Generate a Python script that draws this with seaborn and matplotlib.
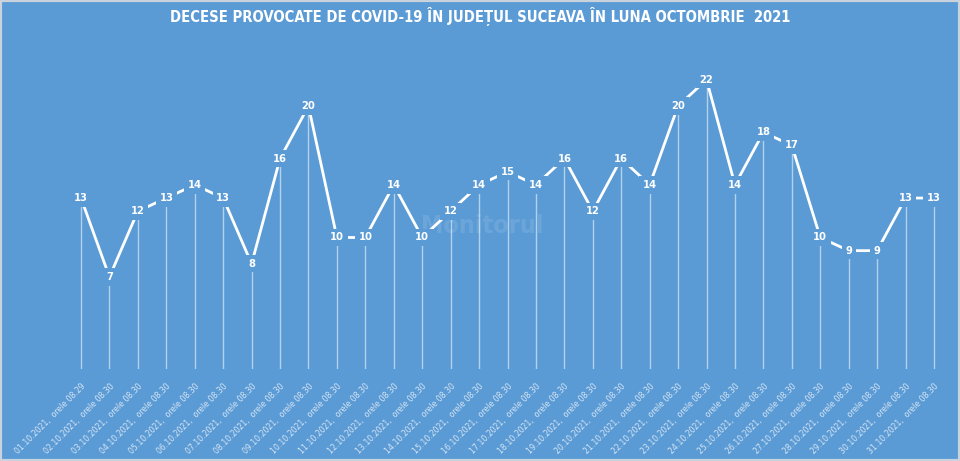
import numpy as np
import pandas as pd
import matplotlib
matplotlib.use("Agg")
import matplotlib.pyplot as plt
import seaborn as sns
from matplotlib.patches import Rectangle

# Data
zile = [f"{d:02d}.10.2021" for d in range(1, 32)]
ore = ["08.29"] + ["08.30"] * 30
decese = [13, 7, 12, 13, 14, 13, 8, 16, 20, 10, 10, 14, 10, 12, 14, 15,
          14, 16, 12, 16, 14, 20, 22, 14, 18, 17, 10, 9, 9, 13, 13]
etichete = [f"{z},  orele {o}" for z, o in zip(zile, ore)]

titlu = "DECESE PROVOCATE DE COVID-19 ÎN JUDEȚUL SUCEAVA ÎN LUNA OCTOMBRIE  2021"

bg = "#5b9bd5"

sns.set_style("white")
plt.rcParams['font.family'] = ['DejaVu Sans']

df = pd.DataFrame({"idx": np.arange(len(decese)), "decese": decese})

fig = plt.figure(figsize=(9.6, 4.61), dpi=100)
fig.patch.set_facecolor(bg)
ax = fig.add_axes([0, 92 / 461, 1, 369 / 461])
ax.set_facecolor(bg)

# drop lines
ax.vlines(df["idx"], 0, df["decese"], color="white", lw=1, alpha=0.55, zorder=1)

sns.lineplot(data=df, x="idx", y="decese", ax=ax, color="white", lw=2,
             zorder=2)

for i, v in zip(df["idx"], df["decese"]):
    ax.text(i, v, str(v), ha="center", va="center", color="white",
            fontsize=8, fontweight="bold", fontstretch="condensed", zorder=3,
            bbox=dict(facecolor=bg, edgecolor="none", pad=2.6))

# watermark
ax.text(14.1, 10.9, "Monitorul", ha="center", va="center", fontsize=18,
        fontweight="bold", fontstretch="condensed", color="white",
        alpha=0.1, zorder=0)

step = (934 - 81) / 30
ax.set_xlim(-81 / step, (960 - 81) / step)
ax.set_ylim(0, 369 / 13.15)
ax.set_xticks(df["idx"])
ax.set_xticklabels(etichete, rotation=45, ha="right", va="top",
                   rotation_mode="anchor", fontsize=6.2, color="#d6e5f4",
                   fontstretch="condensed")
ax.tick_params(axis="x", length=0, pad=9)
ax.set_yticks([])
ax.set_xlabel("")
ax.set_ylabel("")
for s in ax.spines.values():
    s.set_visible(False)

fig.text(0.5, 1 - 17 / 461, titlu, ha="center", va="center", color="white",
         fontsize=10.6, fontweight="bold", fontstretch="condensed")

fig.patches.append(Rectangle((0, 0), 1, 1, transform=fig.transFigure,
                             fill=False, edgecolor="#c8d3dd", lw=3))

fig.savefig("out.png", dpi=100, facecolor=bg)
